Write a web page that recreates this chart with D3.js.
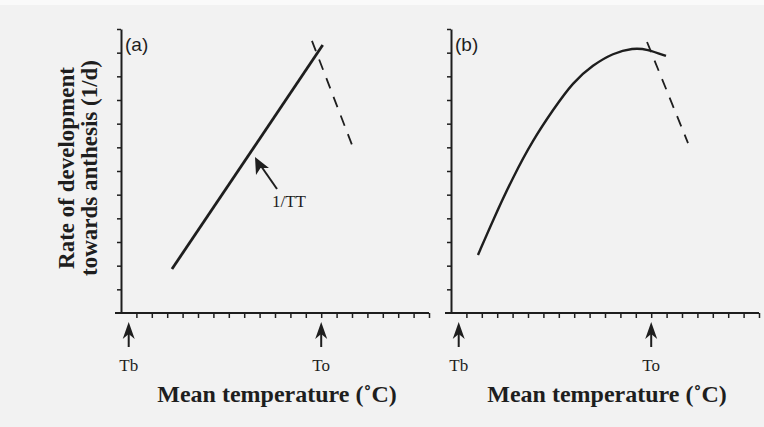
<!DOCTYPE html>
<html><head><meta charset="utf-8">
<script src="https://cdn.jsdelivr.net/npm/d3@7"></script>
<style>
html,body{margin:0;padding:0;background:#f2f2f2;}
svg{display:block;}
</style></head>
<body>
<script>
// ---- data ----
const panels = ["(a)", "(b)"];
const xTickValues = [1,2,3,4,5,6,7,8,9,10,11,12,13,14,15,16,17,18,19,20];
const yTickValues = [1,2,3,4,5,6,7,8,9,10,11,12];
const markerNames = ["Tb", "To"];
const markerValues = [0.5, 13];
// panel (a): linear thermal-time response
const lineA_t = [3.31, 13.1];
const lineA_v = [1.86, 11.32];
const dashA_t = [12.4, 15.06];
const dashA_v = [11.5, 7.0];
// panel (b): curvilinear response
const curveB_t = [1.75, 2.73, 4.03, 5.32, 6.62, 7.92, 9.22, 10.52, 11.82, 12.73, 13.96];
const curveB_v = [2.45, 3.93, 5.75, 7.31, 8.58, 9.76, 10.48, 10.98, 11.2, 11.15, 10.86];
const dashB_t = [12.73, 15.39];
const dashB_v = [11.45, 7.18];
const yLabel = ["Rate of development", "towards anthesis (1/d)"];
const xLabel = "Mean temperature (\u02DAC)";
const annot = "1/TT";

const W = 764, H = 427;
const svg = d3.select("body").append("svg").attr("width", W).attr("height", H);
svg.append("rect").attr("width", W).attr("height", H).attr("fill", "#f2f2f2");
svg.append("rect").attr("width", W).attr("height", 5).attr("fill", "#fafafa");

const ink = "#1e1e1e";
const serif = "'Liberation Serif','Times New Roman',serif";
const sans = "'Liberation Sans',Arial,sans-serif";

const y = d3.scaleLinear().domain([0, 12]).range([313, 29]);
const xs = [
  d3.scaleLinear().domain([0, 20]).range([121, 429]),
  d3.scaleLinear().domain([0, 20]).range([451, 759])
];
const zip = (a, b) => a.map((t, i) => ({t, v: b[i]}));

xs.forEach((x, pi) => {
  const g = svg.append("g");
  // y axis
  const yAx = g.append("g").attr("transform", `translate(${x(0)},0)`)
    .call(d3.axisLeft(y).tickValues(yTickValues).tickSize(4).tickFormat("").tickSizeOuter(0));
  yAx.select(".domain").attr("stroke", ink).attr("stroke-width", 2);
  yAx.selectAll(".tick line").attr("stroke", ink).attr("stroke-width", 1.5);
  // x axis
  const xAx = g.append("g").attr("transform", `translate(0,${y(0)})`)
    .call(d3.axisBottom(x).tickValues(xTickValues).tickSize(5).tickFormat("").tickSizeOuter(0));
  xAx.select(".domain").attr("stroke", ink).attr("stroke-width", 2)
    .attr("d", `M${x(0) - 6},0H${x(20)}`);
  xAx.selectAll(".tick line").attr("stroke", ink).attr("stroke-width", 1.5);

  // panel letter
  g.append("text").attr("x", x(0) + 4).attr("y", 51)
    .attr("font-family", sans).attr("font-size", 19).attr("fill", ink).text(panels[pi]);

  // markers Tb / To
  markerValues.forEach((m, i) => {
    const mx = x(m);
    g.append("line").attr("x1", mx).attr("x2", mx).attr("y1", y(0) + 18).attr("y2", y(0) + 34)
      .attr("stroke", ink).attr("stroke-width", 2);
    g.append("path").attr("d", `M${mx},${y(0) + 9}L${mx - 6},${y(0) + 26}L${mx},${y(0) + 21}L${mx + 6},${y(0) + 26}Z`)
      .attr("fill", ink);
    g.append("text").attr("x", mx).attr("y", 371).attr("text-anchor", "middle")
      .attr("font-family", serif).attr("font-size", 17).attr("fill", ink).text(markerNames[i]);
  });

  // x label
  g.append("text").attr("x", (x(0) + x(20)) / 2 + 2).attr("y", 402)
    .attr("text-anchor", "middle").attr("font-family", serif).attr("font-weight", "bold")
    .attr("font-size", 24).attr("fill", ink).text(xLabel);
});

// y label
const yl = svg.append("text").attr("transform", "translate(0,168) rotate(-90)")
  .attr("text-anchor", "middle").attr("font-family", serif).attr("font-weight", "bold")
  .attr("font-size", 23).attr("fill", ink);
yl.append("tspan").attr("x", 0).attr("y", 74).text(yLabel[0]);
yl.append("tspan").attr("x", 0).attr("y", 97).text(yLabel[1]);

// panel (a) lines
const xa = xs[0], xb = xs[1];
const la = d3.line().x(d => xa(d.t)).y(d => y(d.v));
svg.append("path").attr("d", la(zip(lineA_t, lineA_v))).attr("fill", "none")
  .attr("stroke", ink).attr("stroke-width", 2.8);
svg.append("path").attr("d", la(zip(dashA_t, dashA_v))).attr("fill", "none")
  .attr("stroke", ink).attr("stroke-width", 1.8).attr("stroke-dasharray", "11,9");

// 1/TT annotation
svg.append("line").attr("x1", 277).attr("y1", 189).attr("x2", 261).attr("y2", 166)
  .attr("stroke", ink).attr("stroke-width", 2);
svg.append("path").attr("d", "M255,157L256,175L260.5,168L269,168Z").attr("fill", ink);
svg.append("text").attr("x", 272).attr("y", 207).attr("font-family", serif)
  .attr("font-size", 17).attr("fill", ink).text(annot);

// panel (b) lines
const lb = d3.line().x(d => xb(d.t)).y(d => y(d.v)).curve(d3.curveBasis);
svg.append("path").attr("d", lb(zip(curveB_t, curveB_v))).attr("fill", "none")
  .attr("stroke", ink).attr("stroke-width", 2.4);
svg.append("path").attr("d", d3.line().x(d => xb(d.t)).y(d => y(d.v))(zip(dashB_t, dashB_v)))
  .attr("fill", "none").attr("stroke", ink).attr("stroke-width", 1.8).attr("stroke-dasharray", "11,9");
</script>
</body></html>
